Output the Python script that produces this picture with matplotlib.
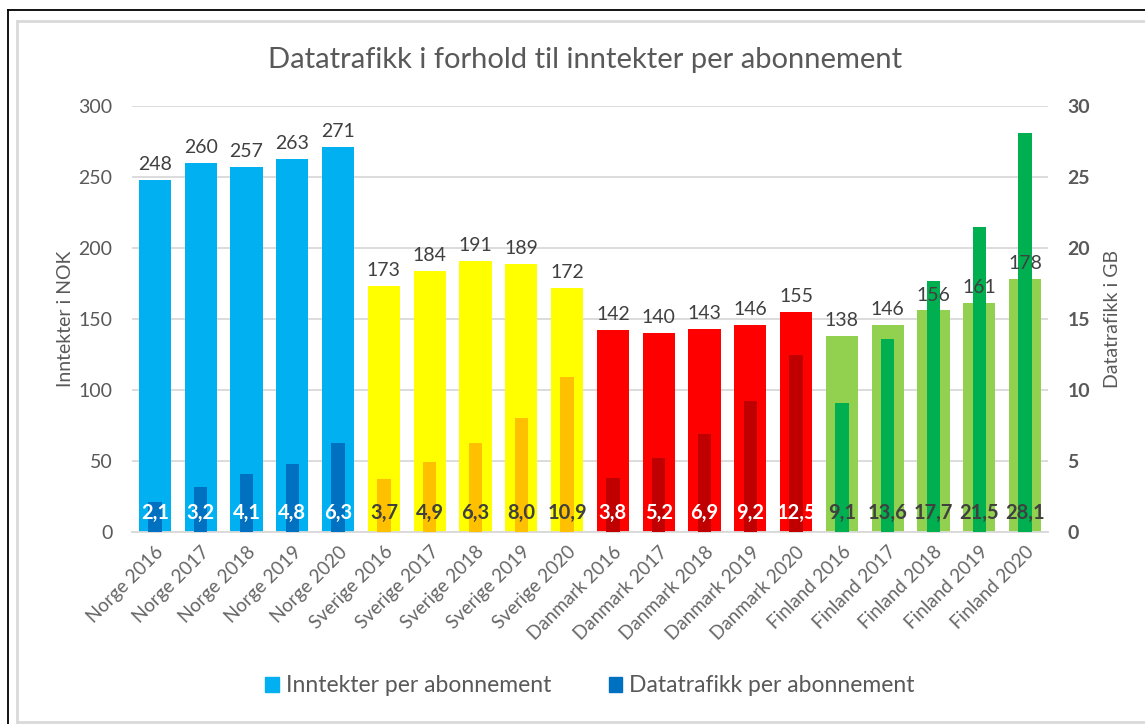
import matplotlib.pyplot as plt
import matplotlib.lines as mlines
import matplotlib.patches as mpatches

plt.rcParams['font.family'] = ['Lato', 'DejaVu Sans']

kategorier = ['Norge 2016', 'Norge 2017', 'Norge 2018', 'Norge 2019', 'Norge 2020',
              'Sverige 2016', 'Sverige 2017', 'Sverige 2018', 'Sverige 2019', 'Sverige 2020',
              'Danmark 2016', 'Danmark 2017', 'Danmark 2018', 'Danmark 2019', 'Danmark 2020',
              'Finland 2016', 'Finland 2017', 'Finland 2018', 'Finland 2019', 'Finland 2020']
inntekter = [248, 260, 257, 263, 271,
             173, 184, 191, 189, 172,
             142, 140, 143, 146, 155,
             138, 146, 156, 161, 178]
datatrafikk = [2.1, 3.2, 4.1, 4.8, 6.3,
               3.7, 4.9, 6.3, 8.0, 10.9,
               3.8, 5.2, 6.9, 9.2, 12.5,
               9.1, 13.6, 17.7, 21.5, 28.1]

# farger per land: (ytre, indre, tekstfarge indre)
farger_land = {
    'Norge': ('#00B0F0', '#0070C0', 'white'),
    'Sverige': ('#FFFF00', '#FFC000', '#404040'),
    'Danmark': ('#FF0000', '#C00000', 'white'),
    'Finland': ('#92D050', '#00B050', '#404040'),
}

grå = '#595959'
x = list(range(len(kategorier)))
land = [k.split()[0] for k in kategorier]

fig = plt.figure(figsize=(11.45, 7.24), dpi=100)
ax = fig.add_axes([132 / 1145, 1 - 532 / 724, 916 / 1145, 426 / 724])
ax2 = ax.twinx()

ax.bar(x, inntekter, width=0.70, color=[farger_land[l][0] for l in land], zorder=2)
ax2.bar(x, datatrafikk, width=0.29, color=[farger_land[l][1] for l in land], zorder=2)

ax.set_xlim(-0.5, len(kategorier) - 0.5)
ax.set_ylim(0, 300)
ax2.set_ylim(0, 30)
ax.set_yticks(range(0, 301, 50))
ax2.set_yticks(range(0, 31, 5))
ax.yaxis.grid(True, color='#D9D9D9', linewidth=1.3, zorder=0)
ax.set_axisbelow(True)

for a in (ax, ax2):
    for s in a.spines.values():
        s.set_visible(False)
    a.tick_params(length=0)
ax.spines['bottom'].set_visible(True)
ax.spines['bottom'].set_color('#D9D9D9')
ax.spines['bottom'].set_linewidth(1.3)

ax.tick_params(axis='y', labelsize=14, labelcolor=grå, pad=14)
ax2.tick_params(axis='y', labelsize=14, labelcolor=grå, pad=14)
for t in ax2.get_yticklabels():
    t.set_fontweight('bold')

ax.set_xticks(x)
ax.set_xticklabels(kategorier, rotation=45, ha='right', rotation_mode='anchor',
                   fontsize=13.5, color='#666666')
ax.tick_params(axis='x', pad=8)

ax.set_ylabel('Inntekter i NOK', fontsize=14, color=grå, labelpad=3)
ax2.set_ylabel('Datatrafikk i GB', fontsize=14, color=grå, labelpad=10)

# verdier over søylene
for i, v in enumerate(inntekter):
    ax2.annotate(str(v), (i, v), xycoords=ax.transData, xytext=(0, 5),
                 textcoords='offset points', ha='center', va='bottom',
                 fontsize=14, color='#404040', zorder=5)
for i, v in enumerate(datatrafikk):
    ax2.annotate(f'{v:.1f}'.replace('.', ','), (i, 0), xytext=(0, 14),
                 textcoords='offset points', ha='center', va='center',
                 fontsize=14.5, fontweight='bold', color=farger_land[land[i]][2], zorder=5)

fig.suptitle('Datatrafikk i forhold til inntekter per abonnement',
             x=585 / 1145, y=1 - 60 / 724, va='center', fontsize=21, color=grå)

handles = [mpatches.Patch(color='#00B0F0', label='Inntekter per abonnement'),
           mpatches.Patch(color='#0070C0', label='Datatrafikk per abonnement')]
fig.legend(handles=handles, loc='center', bbox_to_anchor=(590 / 1145, 1 - 686 / 724),
           ncol=2, frameon=False, fontsize=16.5, labelcolor=grå,
           handlelength=0.6, handleheight=0.6, handletextpad=0.3, columnspacing=2.5)

# rammer
W, H = 1145, 724
fig.add_artist(mlines.Line2D([17 / W, 1], [1 - 21 / H, 1 - 21 / H], color='#D9D9D9', lw=2))
fig.add_artist(mlines.Line2D([17 / W, 17 / W], [1 - 21 / H, 1 - 722 / H], color='#D9D9D9', lw=2))
fig.add_artist(mlines.Line2D([17 / W, 1], [1 - 722 / H, 1 - 722 / H], color='#D9D9D9', lw=2))
fig.add_artist(mlines.Line2D([8 / W, 1], [1 - 10 / H, 1 - 10 / H], color='black', lw=1.3))
fig.add_artist(mlines.Line2D([8 / W, 8 / W], [1 - 10 / H, 0], color='black', lw=1.3))

fig.savefig('out.png', dpi=100)
